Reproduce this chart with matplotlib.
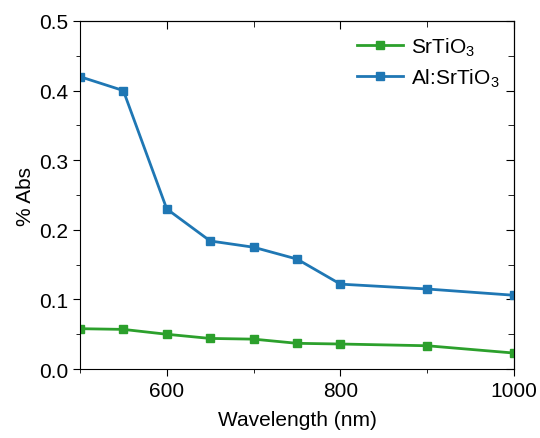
import matplotlib
matplotlib.use('Agg')
import matplotlib.pyplot as plt

plt.rcParams['font.family'] = ['Liberation Sans', 'DejaVu Sans']
plt.rcParams['mathtext.fontset'] = 'custom'
plt.rcParams['mathtext.rm'] = 'Liberation Sans'

wavelength = [500, 550, 600, 650, 700, 750, 800, 900, 1000]
srtio3 = [0.058, 0.057, 0.050, 0.044, 0.043, 0.037, 0.036, 0.0335, 0.023]
al_srtio3 = [0.420, 0.400, 0.230, 0.184, 0.175, 0.158, 0.122, 0.115, 0.106]

fig = plt.figure(figsize=(5.4, 4.39), dpi=100)
ax = fig.add_axes([0.148, 0.157, 0.804, 0.793])

ax.plot(wavelength, srtio3, color='#2ca02c', marker='s', markersize=5.5, lw=2.0,
        label='SrTiO$_\\mathregular{3}$')
ax.plot(wavelength, al_srtio3, color='#1f77b4', marker='s', markersize=5.5, lw=2.0,
        label='Al:SrTiO$_\\mathregular{3}$')

ax.set_xlim(500, 1000)
ax.set_ylim(0, 0.5)
ax.set_xticks([600, 800, 1000])
ax.set_xticks([500, 700, 900], minor=True)
ax.set_yticks([0, 0.1, 0.2, 0.3, 0.4, 0.5])
ax.set_yticks([0.05, 0.15, 0.25, 0.35, 0.45], minor=True)
ax.set_yticklabels(['0.0', '0.1', '0.2', '0.3', '0.4', '0.5'])
ax.tick_params(axis='both', which='major', direction='out', length=5, labelsize=15)
ax.tick_params(axis='both', which='minor', direction='out', length=3)
ax.set_xlabel('Wavelength (nm)', fontsize=15, labelpad=7)
ax.set_ylabel('% Abs', fontsize=15, labelpad=3)

# mirrored inward ticks on top and right
top = ax.secondary_xaxis('top')
top.set_xticks([600, 800, 1000])
top.set_xticks([500, 700, 900], minor=True)
top.tick_params(which='major', direction='in', length=6, labeltop=False)
top.tick_params(which='minor', direction='in', length=4)
right = ax.secondary_yaxis('right')
right.set_yticks([0, 0.1, 0.2, 0.3, 0.4, 0.5])
right.set_yticks([0.05, 0.15, 0.25, 0.35, 0.45], minor=True)
right.tick_params(which='major', direction='in', length=6, labelright=False)
right.tick_params(which='minor', direction='in', length=4)

ax.legend(loc='upper right', frameon=False, fontsize=15, handlelength=2.2,
          handletextpad=0.4, labelspacing=0.4, borderaxespad=0.3)

fig.savefig('out.png', dpi=100)
